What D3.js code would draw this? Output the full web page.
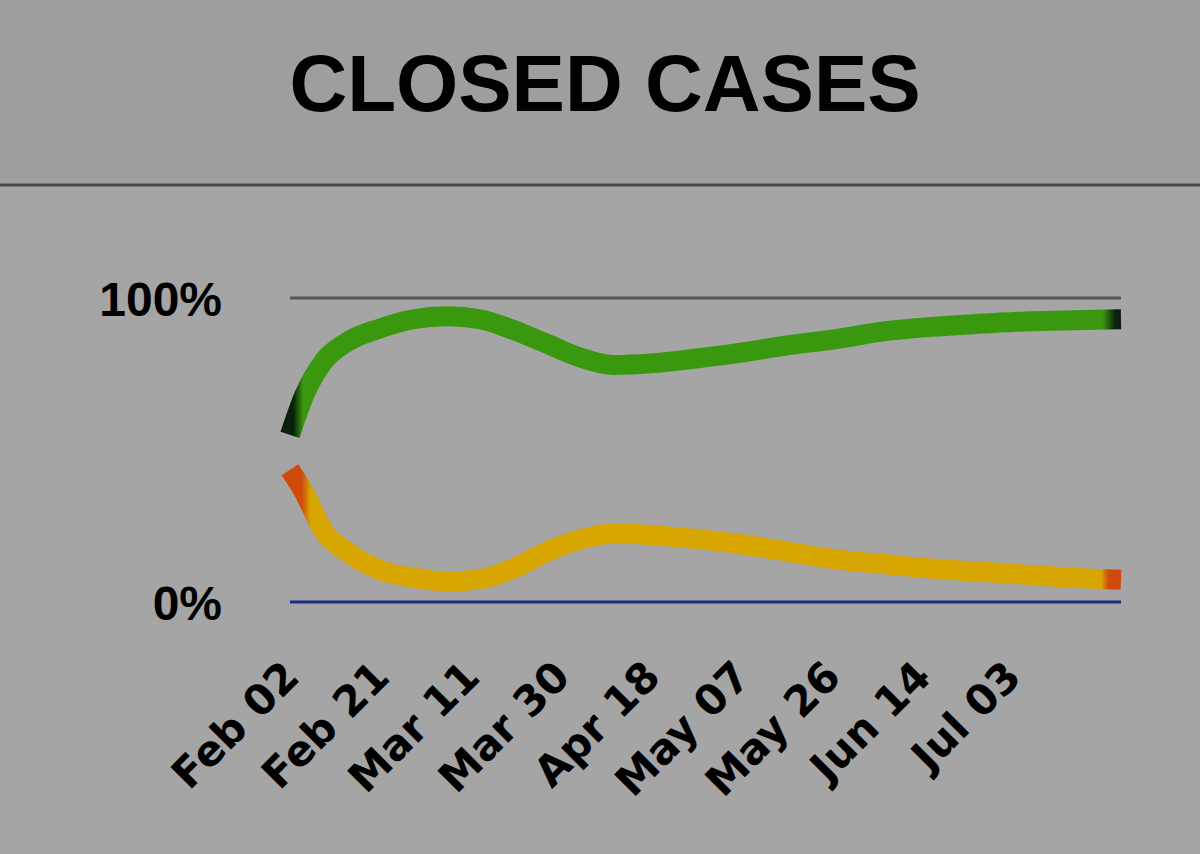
<!DOCTYPE html>
<html>
<head>
<meta charset="utf-8">
<script src="https://cdn.jsdelivr.net/npm/d3@7/dist/d3.min.js"></script>
<style>
  html, body { margin: 0; padding: 0; background: #a5a5a5; }
  svg { display: block; }
</style>
</head>
<body>
<div id="chart"></div>
<script>
// Closed cases: recovery rate vs death rate (share of closed cases)

// sample dates (days)
const dates = [
  "2020-02-02", "2020-02-05", "2020-02-09", "2020-02-14", "2020-02-21", "2020-02-28",
  "2020-03-06", "2020-03-13", "2020-03-20", "2020-03-27", "2020-04-03", "2020-04-10",
  "2020-04-18", "2020-04-27", "2020-05-07", "2020-05-17", "2020-05-27", "2020-06-06",
  "2020-06-16", "2020-06-26", "2020-07-06", "2020-07-16", "2020-07-26"
];

// recovered %, green line
const recovered = [
  55, 68, 79, 85.5, 90, 93,
  94, 93, 89.5, 85, 80.5, 78,
  78.5, 80, 82, 84.5, 86.5, 89,
  90.5, 91.5, 92.3, 92.7, 93
];

// deaths %, orange line
const deaths = [
  43.5, 36, 23.5, 16.5, 10.5, 8,
  6.7, 7.5, 11, 16.5, 20.5, 22.5,
  22, 20.8, 19, 16.5, 14, 12.5,
  11, 10, 9, 8, 7.3
];

const tickDates = [
  "2020-02-02", "2020-02-21", "2020-03-11", "2020-03-30", "2020-04-18",
  "2020-05-07", "2020-05-26", "2020-06-14", "2020-07-03"
];

const yTicks = [0, 100];

(function () {
  const W = 1200, H = 854;
  const parse = d3.timeParse("%Y-%m-%d");

  const svg = d3.select("#chart").append("svg")
    .attr("width", W)
    .attr("height", H);

  // header band + separator
  svg.append("rect")
    .attr("x", 0).attr("y", 0)
    .attr("width", W).attr("height", 185)
    .attr("fill", "#9e9e9e");

  svg.append("line")
    .attr("x1", 0).attr("x2", W)
    .attr("y1", 185).attr("y2", 185)
    .attr("stroke", "#4a4a4a")
    .attr("stroke-width", 3);

  svg.append("text")
    .attr("x", 605)
    .attr("y", 111)
    .attr("text-anchor", "middle")
    .style("font-family", "'Liberation Sans', Arial, sans-serif")
    .style("font-weight", "bold")
    .style("font-size", "80px")
    .attr("fill", "#000")
    .text("CLOSED CASES");

  // scales
  const x = d3.scaleTime()
    .domain([parse(dates[0]), parse(dates[dates.length - 1])])
    .range([290, 1121]);

  const y = d3.scaleLinear()
    .domain([0, 100])
    .range([602, 298]);

  // gridlines
  svg.append("line")
    .attr("x1", 290).attr("x2", 1121)
    .attr("y1", y(100)).attr("y2", y(100))
    .attr("stroke", "#555")
    .attr("stroke-width", 3);

  svg.append("line")
    .attr("x1", 290).attr("x2", 1121)
    .attr("y1", y(0)).attr("y2", y(0))
    .attr("stroke", "#1c2a8c")
    .attr("stroke-width", 3);

  // y labels
  const yAxis = svg.append("g")
    .attr("transform", "translate(226,0)")
    .call(d3.axisLeft(y).tickValues(yTicks).tickFormat(d => d + "%").tickSize(0).tickPadding(4));
  yAxis.select(".domain").remove();
  yAxis.selectAll("text")
    .attr("dy", "0.36em")
    .style("font-family", "'Liberation Sans', Arial, sans-serif")
    .style("font-weight", "bold")
    .style("font-size", "48px")
    .attr("fill", "#000");

  // x labels, rotated
  const xAxis = svg.append("g")
    .attr("transform", "translate(0,602)")
    .call(d3.axisBottom(x)
      .tickValues(tickDates.map(parse))
      .tickFormat(d3.timeFormat("%b %d"))
      .tickSize(0));
  xAxis.select(".domain").remove();
  xAxis.selectAll("text")
    .attr("y", 0)
    .attr("dy", 0)
    .attr("transform", "translate(11,77) rotate(-45)")
    .style("text-anchor", "end")
    .style("font-family", "'DejaVu Sans', sans-serif")
    .style("font-weight", "bold")
    .style("font-size", "42px")
    .attr("fill", "#000");

  // gradients so line ends darken like the original
  const defs = svg.append("defs");
  function endGrad(id, mid, end, a, b, c, d) {
    const g = defs.append("linearGradient")
      .attr("id", id)
      .attr("gradientUnits", "userSpaceOnUse")
      .attr("x1", 290).attr("x2", 1121)
      .attr("y1", 0).attr("y2", 0);
    [[0, end], [a, end], [b, mid], [c, mid], [d, end], [1, end]]
      .forEach(s => g.append("stop").attr("offset", s[0]).attr("stop-color", s[1]));
  }
  endGrad("g-green", "#3a980f", "#0a200a", 0.004, 0.016, 0.978, 0.993);
  endGrad("g-orange", "#d8a600", "#d04a0c", 0.014, 0.025, 0.976, 0.985);

  const rows = dates.map((d, i) => ({ date: parse(d), rec: recovered[i], dth: deaths[i] }));

  const line = key => d3.line()
    .x(d => x(d.date))
    .y(d => y(d[key]))
    .curve(d3.curveMonotoneX);

  svg.append("path")
    .datum(rows)
    .attr("d", line("rec"))
    .attr("fill", "none")
    .attr("stroke", "url(#g-green)")
    .attr("stroke-width", 20);

  svg.append("path")
    .datum(rows)
    .attr("d", line("dth"))
    .attr("fill", "none")
    .attr("stroke", "url(#g-orange)")
    .attr("stroke-width", 20);
})();
</script>
</body>
</html>
